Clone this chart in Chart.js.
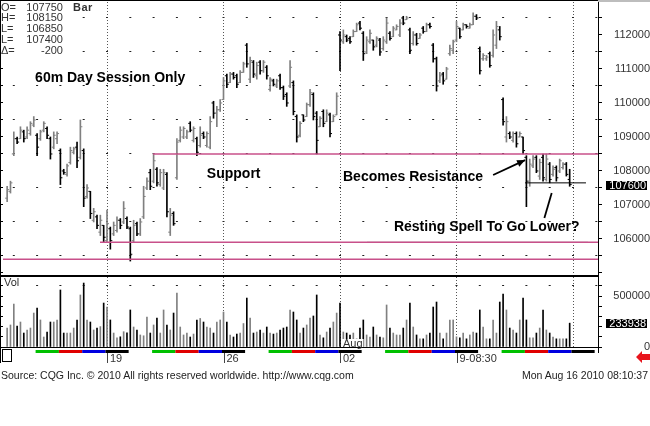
<!DOCTYPE html>
<html>
<head>
<meta charset="utf-8">
<title>60m Day Session Only</title>
<script src="https://cdn.jsdelivr.net/npm/chart.js@4/dist/chart.umd.min.js"></script>
<style>
html,body{margin:0;padding:0;background:#fff;}
body{position:relative;width:650px;height:426px;overflow:hidden;font-family:"Liberation Sans",Arial,sans-serif;}
canvas{position:absolute;left:0;}
#price{top:0;}
#vol{top:277px;}
.a{position:absolute;white-space:pre;}
.h{font-size:11px;line-height:11px;color:#333;background:#fff;}
.v{width:40px;text-align:right;left:23px;}
.f{font-size:10.5px;line-height:12px;color:#222;top:369px;}
</style>
</head>
<body>
<canvas id="price" width="650" height="277" style="width:650px;height:277px"></canvas>
<canvas id="vol" width="650" height="90" style="width:650px;height:90px"></canvas>

<div class="a" style="left:0;top:0;width:598px;height:1px;background:#000"></div>
<div class="a" style="left:598px;top:0;width:52px;height:2px;background:#bdbdbd"></div>
<div class="a" style="left:0;top:0;width:1px;height:363px;background:#000"></div>
<div class="a" style="left:0;top:275px;width:599px;height:2px;background:#000"></div>
<div class="a" style="left:598px;top:347px;width:1px;height:6px;background:#000"></div>
<div class="a" style="left:2px;top:349px;width:8px;height:11px;border:1px solid #000;background:#fff"></div>
<svg class="a" style="left:636px;top:351px" width="14" height="12" viewBox="0 0 14 12"><polygon points="0,6 6,0 6,3 14,3 14,9 6,9 6,12" fill="#e8141c"/></svg>

<div class="a h" style="left:1px;top:1.5px">O=</div><div class="a h v" style="top:1.5px">107750</div>
<div class="a h" style="left:1px;top:12px">H=</div><div class="a h v" style="top:12px">108150</div>
<div class="a h" style="left:1px;top:23px">L=</div><div class="a h v" style="top:23px">106850</div>
<div class="a h" style="left:1px;top:34px">L=</div><div class="a h v" style="top:34px">107400</div>
<div class="a h" style="left:1px;top:44.5px">Δ=</div><div class="a h v" style="top:44.5px">-200</div>
<div class="a h" style="left:73px;top:1.5px;font-weight:bold;letter-spacing:0.5px">Bar</div>

<div class="a f" style="left:1px">Source: CQG Inc. © 2010 All rights reserved worldwide. http://www.cqg.com</div>
<div class="a f" style="right:2px">Mon Aug 16 2010 08:10:37</div>

<script>
// ---------------- DATA ----------------
const FIRST_SLOT = 5;      // slot (hourly bar position) of the first bar, Mon Jul 12
const BARS_PER_DAY = 7;

const open = [
  107200,107400,
  108500,108950,108950,109150,109000,109100,109350,
  109050,108950,109200,109250,108950,108700,108950,
  108600,108000,107900,108250,108550,108700,108400,
  108600,107250,107400,106550,106650,106200,106400,
  105950,106300,106150,106250,106550,106500,106600,
  106300,105950,106450,106150,106650,107500,107950,
  107700,108050,107600,107500,107900,106200,106750,
  107800,108900,109000,109000,109400,108900,108950,
  108750,109100,108750,108700,110000,109700,109800,
  110100,110800,110600,110850,110800,110600,110900,
  111700,110700,111200,110800,111200,110950,111050,
  110400,110650,110500,110800,110450,110250,110500,
  110600,109600,109050,109650,109600,109950,110250,
  109700,109300,109750,109450,109650,109450,109650,
  112000,111800,111950,111900,111950,112100,112350,
  112050,111500,111800,111850,111700,111850,111600,
  111800,112050,111950,112150,112000,112500,112450,
  112150,111750,112000,111900,112200,112100,112300,
  111700,111300,110650,110850,110700,111450,111550,
  111850,112200,112150,112300,112200,112300,112550,
  111600,111300,111300,111450,111400,111700,112150,
  110100,109000,109100,108900,109100,109000,109000,
  108400,107700,108150,108400,107850,108400,107750,
  108200,107900,108100,108000,108100,108200,107750
];
const high = [
  107550,107700,
  109150,109000,109300,109200,109300,109450,109600,
  109100,109200,109450,109300,109000,109150,109150,
  108650,108050,108200,108700,108700,108850,109500,
  108650,107600,107400,106900,106700,106700,106400,
  106850,106350,106500,106650,106600,107100,106650,
  106350,106550,106500,106600,107550,107800,108050,
  108500,108100,108050,108050,107950,106900,106800,
  108950,109300,109300,109200,109450,109300,109000,
  109300,109150,109150,109600,110050,109900,110100,
  110750,110850,110900,110900,110850,110950,111200,
  111750,111350,111250,111200,111250,111250,111100,
  110750,110700,110700,110850,110500,110300,111250,
  110650,109650,109450,109650,110000,110400,110300,
  109750,109600,109800,109800,109700,109650,110300,
  112100,112150,112000,111950,112150,112350,112400,
  112100,111950,112150,111850,111950,111900,111950,
  112500,112100,112250,112300,112450,112550,112550,
  112200,112100,112050,112050,112250,112350,112350,
  111750,111350,110900,110900,111050,111700,111850,
  112400,112200,112350,112300,112350,112650,112600,
  111650,111450,111400,111500,112150,112400,112250,
  110150,109600,109150,109150,109150,109150,109000,
  108450,108350,108450,108450,108350,108500,108500,
  108250,108150,108150,108350,108250,108250,108050
];
const low = [
  107100,107350,
  108450,108800,108950,108850,108950,109050,109300,
  108450,108900,109150,108950,108350,108650,108800,
  107600,107900,107850,108200,108500,108100,108350,
  106950,107200,106600,106500,106300,106100,105900,
  105900,105700,106100,106200,106300,106450,106300,
  105350,105900,106100,106100,106600,107450,107450,
  107650,107550,107550,107450,106650,106100,106400,
  107750,108850,108950,108950,109150,108850,108450,
  108700,108950,108700,108650,109550,109300,109750,
  110100,110450,110600,110700,110450,110600,110900,
  111050,110600,110750,110700,110850,110900,110700,
  110350,110500,110450,110400,110100,109900,110450,
  109650,108850,109000,109450,109600,109900,109500,
  108500,109300,109300,109450,109000,109450,109650,
  110950,111750,111800,111750,111950,112100,112150,
  111250,111450,111750,111550,111650,111400,111550,
  111750,111850,111950,112150,111950,112300,112450,
  111450,111700,111700,111900,112050,112100,112200,
  111200,110350,110600,110550,110700,111400,111450,
  111800,111900,112150,112200,112200,112300,112450,
  110850,111250,111250,111050,111350,111600,111850,
  109350,108850,108950,108850,108700,109000,108500,
  106950,107550,108100,107950,107750,107700,107700,
  107650,107850,107700,107950,108050,107850,107550
];
const close = [
  107450,107650,
  108950,108850,109200,108950,109200,109400,109500,
  108700,109150,109400,109050,108500,109050,109100,
  107800,107950,108150,108600,108650,108300,109300,
  107200,107500,106750,106800,106400,106550,106050,
  106450,105950,106400,106550,106400,106900,106350,
  105550,106400,106150,106500,107250,107700,107550,
  108300,107650,107950,107950,106800,106700,106450,
  108850,109200,109250,109150,109200,109250,108550,
  109050,109000,109100,109450,109700,109800,110000,
  110650,110550,110850,110750,110550,110900,111150,
  111150,111250,110850,111100,110950,111200,110800,
  110700,110550,110650,110450,110200,110000,111050,
  109750,109000,109400,109500,109950,110300,109600,
  108900,109550,109400,109700,109100,109600,110200,
  111850,112000,111850,111800,112100,112300,112200,
  111450,111850,112050,111650,111900,111500,111850,
  112350,111900,112200,112250,112350,112350,112500,
  111550,112000,111750,112000,112100,112300,112250,
  111300,110500,110800,110650,111000,111600,111800,
  112250,111950,112300,112250,112300,112550,112500,
  110950,111400,111350,111100,112000,112250,111950,
  109450,109450,109000,109100,108800,109100,108600,
  107700,108200,108350,108000,108250,107800,108350,
  107750,108050,107800,108300,108200,107900,107600
];
const volume = [
  186000,216000,
  421000,206000,245000,137000,167000,186000,333000,
  382000,265000,98000,147000,245000,245000,265000,
  559000,137000,137000,137000,186000,265000,510000,
  627000,265000,245000,167000,186000,200000,431000,
  392000,265000,137000,90000,100000,150000,140000,
  363000,196000,167000,118000,110000,294000,137000,
  216000,284000,137000,363000,216000,167000,333000,
  529000,196000,118000,137000,98000,127000,265000,
  280000,245000,196000,186000,137000,245000,265000,
  343000,245000,118000,98000,127000,137000,230000,
  480000,284000,137000,147000,167000,137000,196000,
  137000,127000,137000,167000,186000,196000,363000,
  343000,265000,137000,186000,216000,284000,304000,
  510000,118000,90000,147000,186000,245000,333000,
  431000,147000,137000,118000,137000,80000,186000,
  265000,118000,98000,196000,118000,98000,90000,
  412000,186000,137000,118000,118000,186000,265000,
  431000,196000,118000,80000,80000,118000,137000,
  392000,441000,137000,80000,137000,265000,265000,
  100000,90000,137000,80000,118000,147000,137000,
  363000,196000,80000,80000,265000,137000,441000,
  520000,363000,186000,167000,137000,265000,480000,
  265000,90000,90000,137000,186000,363000,167000,
  137000,98000,80000,80000,80000,80000,233938
];

const weekSlots  = [35, 70, 105, 140, 175];
const weekLabels = ['19', '26', '02', '9-08:30', ''];
const monthMark  = {slot: 105, text: 'Aug'};
const priceTickLabels = [106000, 107000, 108000, 109000, 110000, 111000, 112000];
const volTickLabels   = [0, 500000];

const supportLevel = 108500;   // support that becomes resistance
const lowerSupport = 105900;
const swingLow     = 105400;
const restingLevel = 107650;

// ---------------- CHART SETUP ----------------
const X_MIN = 3.755, X_MAX = 182.51;
const P_MIN = 104940, P_MAX = 112970;
const V_MAX = 686275;
const UP = '#808080', DOWN = '#000000', PINK = '#c8508a';
const FONT = '"Liberation Sans", Arial, sans-serif';

Chart.defaults.font.family = FONT;
Chart.defaults.font.size = 11;
Chart.defaults.color = '#333';
Chart.defaults.animation = false;

const slots = open.map((_, i) => FIRST_SLOT + i);
const barColors = close.map((c, i) => c >= open[i] ? UP : DOWN);

const priceGrid = []; for (let v = 105000; v <= 112500; v += 500) priceGrid.push(v);
const volGrid = []; for (let v = 0; v <= 600000; v += 100000) volGrid.push(v);

function xAxis(withLabels) {
  return {
    type: 'linear', min: X_MIN, max: X_MAX, offset: false,
    afterBuildTicks: s => { s.ticks = weekSlots.map(v => ({value: v})); },
    ticks: {display: withLabels, autoSkip: false, maxRotation: 0, minRotation: 0, align: 'start',
            labelOffset: 3, padding: 5, color: '#333', font: {size: 11},
            callback: v => { const i = weekSlots.indexOf(v); return i >= 0 ? weekLabels[i] : ''; }},
    grid: {drawTicks: false, color: '#555', lineWidth: 1, offset: false},
    border: {display: withLabels, color: '#000', width: 1, dash: [1, 2]},
    afterFit: s => { s.height = withLabels ? 16 : 0; s.paddingLeft = 0; s.paddingRight = 0; }
  };
}
function rightAxis(min, max, gridVals, labels, dotTest) {
  return {
    position: 'right', min, max,
    afterBuildTicks: s => { s.ticks = gridVals.map(v => ({value: v})); },
    ticks: {crossAlign: 'far', padding: 7, color: '#333', font: {size: 11}, autoSkip: false,
            callback: v => labels.includes(v) ? String(v) : ''},
    grid: {color: c => (c.tick && dotTest(c.tick.value)) ? '#222' : 'rgba(0,0,0,0)',
           drawTicks: true, tickLength: 4, tickColor: '#000', lineWidth: 1},
    border: {display: true, color: '#000', width: 1, dash: [2, 21.3], dashOffset: 13.5},
    afterFit: s => { s.width = 52; s.paddingTop = 0; s.paddingBottom = 0; }
  };
}
function leftAxis(min, max, gridVals) {
  return {
    position: 'left', min, max,
    afterBuildTicks: s => { s.ticks = gridVals.map(v => ({value: v})); },
    ticks: {display: false, autoSkip: false},
    grid: {drawOnChartArea: false, drawTicks: true, tickLength: 3, tickColor: '#000'},
    border: {display: false},
    afterFit: s => { s.width = 3; s.paddingTop = 0; s.paddingBottom = 0; }
  };
}

// annotations (anchored in data space)
const notes = [
  {text: '60m Day Session Only', slot: 13.4, price: 110740},
  {text: 'Support', slot: 65.0, price: 107910},
  {text: 'Becomes Resistance', slot: 105.9, price: 107820},
  {text: 'Resting Spell To Go Lower?', slot: 121.2, price: 106350}
];
const pointers = [
  {from: [151.0, 107880], to: [160.6, 108320], head: true},
  {from: [168.6, 107350], to: [166.4, 106620], head: false}
];
const levelDefs = [
  {y: supportLevel, x0: 48.8, x1: X_MAX, c: PINK, w: 1.5},
  {y: lowerSupport, x0: 32.9, x1: X_MAX, c: PINK, w: 1.5},
  {y: lowerSupport, x0: 113.1, x1: 179.5, c: '#555', w: 1},
  {y: swingLow, x0: X_MIN, x1: X_MAX, c: PINK, w: 1.5},
  {y: restingLevel, x0: 160.6, x1: 178.9, c: '#000', w: 1}
];

const priceDecor = {
  id: 'priceDecor',
  afterDatasetsDraw(chart) {
    const {ctx, scales: {x, y}} = chart;
    ctx.save();
    ctx.fillStyle = '#000';
    ctx.font = 'bold 14px ' + FONT;
    ctx.textAlign = 'left';
    ctx.textBaseline = 'middle';
    notes.forEach(n => ctx.fillText(n.text, x.getPixelForValue(n.slot), y.getPixelForValue(n.price)));
    ctx.strokeStyle = '#000';
    ctx.lineWidth = 1.8;
    pointers.forEach(p => {
      const x0 = x.getPixelForValue(p.from[0]), y0 = y.getPixelForValue(p.from[1]);
      const x1 = x.getPixelForValue(p.to[0]), y1 = y.getPixelForValue(p.to[1]);
      ctx.beginPath(); ctx.moveTo(x0, y0); ctx.lineTo(x1, y1); ctx.stroke();
      if (p.head) {
        const a = Math.atan2(y1 - y0, x1 - x0), L = 8, W = 3.5;
        ctx.beginPath();
        ctx.moveTo(x1, y1);
        ctx.lineTo(x1 - L * Math.cos(a) + W * Math.sin(a), y1 - L * Math.sin(a) - W * Math.cos(a));
        ctx.lineTo(x1 - L * Math.cos(a) - W * Math.sin(a), y1 - L * Math.sin(a) + W * Math.cos(a));
        ctx.closePath(); ctx.fill();
      }
    });
    // last price marker
    const last = close[close.length - 1];
    const yp = y.getPixelForValue(last);
    ctx.fillStyle = '#000';
    ctx.fillRect(chart.chartArea.right + 8, Math.round(yp) - 4, 41, 9);
    ctx.fillStyle = '#fff';
    ctx.font = '11px ' + FONT;
    ctx.textAlign = 'right';
    ctx.fillText(String(last), chart.width - 4, Math.round(yp) + 0.5);
    ctx.restore();
  }
};

const volDecor = {
  id: 'volDecor',
  afterDraw(chart) {
    const {ctx, chartArea: a, scales: {x, y}} = chart;
    ctx.save();
    // weekday colour strip (Mon black, Tue white, Wed green, Thu red, Fri blue)
    const dayColors = ['#000000', '#ffffff', '#00c000', '#e00000', '#0000e0'];
    for (let k = 0; k <= 26; k++) {
      let x0 = x.getPixelForValue(k * BARS_PER_DAY) - 1.5;
      let x1 = x.getPixelForValue((k + 1) * BARS_PER_DAY) - 1.5;
      x0 = Math.max(x0, a.left + 10); x1 = Math.min(x1, a.right);
      if (x1 <= x0) continue;
      ctx.fillStyle = dayColors[k % 5];
      ctx.fillRect(x0, a.bottom + 3, x1 - x0, 3);
    }
    // week tick marks
    ctx.strokeStyle = '#444'; ctx.lineWidth = 1;
    weekSlots.forEach((s, i) => {
      if (!weekLabels[i]) return;
      const px = Math.round(x.getPixelForValue(s)) + 0.5;
      ctx.beginPath(); ctx.moveTo(px, a.bottom + 6); ctx.lineTo(px, a.bottom + 16); ctx.stroke();
    });
    // month label
    ctx.font = '11px ' + FONT;
    ctx.textBaseline = 'middle'; ctx.textAlign = 'left';
    const mx = x.getPixelForValue(monthMark.slot) + 3;
    const mw = ctx.measureText(monthMark.text).width;
    ctx.fillStyle = '#fff'; ctx.fillRect(mx - 1, a.bottom - 8, mw + 2, 8);
    ctx.fillStyle = '#333'; ctx.fillText(monthMark.text, mx, a.bottom - 3);
    // panel title
    ctx.fillText('Vol', a.left + 1, a.top + 6);
    // last volume marker
    const last = volume[volume.length - 1];
    const yp = Math.round(y.getPixelForValue(last));
    ctx.fillStyle = '#000';
    ctx.fillRect(a.right + 8, yp - 4, 41, 9);
    ctx.fillStyle = '#fff'; ctx.textAlign = 'right';
    ctx.fillText(String(last), chart.width - 4, yp + 0.5);
    ctx.restore();
  }
};

// ---------------- PRICE CHART ----------------
new Chart(document.getElementById('price'), {
  type: 'bar',
  data: {
    datasets: [
      ...levelDefs.map(d => ({
        type: 'line', data: [{x: d.x0, y: d.y}, {x: d.x1, y: d.y}],
        borderColor: d.c, borderWidth: d.w, pointRadius: 0, fill: false, order: 0
      })),
      {type: 'scatter', data: slots.map((s, i) => ({x: s, y: open[i]})),
       pointStyle: 'dash', pointRotation: 180, pointRadius: 2, pointBorderWidth: 1,
       pointBorderColor: barColors, pointBackgroundColor: barColors, order: 1},
      {type: 'scatter', data: slots.map((s, i) => ({x: s, y: close[i]})),
       pointStyle: 'dash', pointRotation: 0, pointRadius: 2, pointBorderWidth: 1,
       pointBorderColor: barColors, pointBackgroundColor: barColors, order: 1},
      {type: 'bar', data: slots.map((s, i) => ({x: s, y: [low[i], high[i]]})),
       backgroundColor: barColors, borderWidth: 0, barThickness: 1, order: 2}
    ]
  },
  options: {
    responsive: false, events: [],
    layout: {padding: {top: 2, bottom: 2, left: 0, right: 0}, autoPadding: false},
    plugins: {legend: {display: false}, tooltip: {enabled: false}},
    scales: {
      x: xAxis(false),
      y: rightAxis(P_MIN, P_MAX, priceGrid, priceTickLabels, v => v % 1000 === 500),
      yl: leftAxis(P_MIN, P_MAX, priceGrid)
    }
  },
  plugins: [priceDecor]
});

// ---------------- VOLUME CHART ----------------
new Chart(document.getElementById('vol'), {
  type: 'bar',
  data: {
    datasets: [
      {type: 'bar', data: slots.map((s, i) => ({x: s, y: volume[i]})),
       backgroundColor: barColors, borderWidth: 0, barThickness: 1}
    ]
  },
  options: {
    responsive: false, events: [],
    layout: {padding: {top: 0, bottom: 4, left: 0, right: 0}, autoPadding: false},
    plugins: {legend: {display: false}, tooltip: {enabled: false}},
    scales: {
      x: xAxis(true),
      y: rightAxis(0, V_MAX, volGrid, volTickLabels, v => v === 600000),
      yl: leftAxis(0, V_MAX, volGrid)
    }
  },
  plugins: [volDecor]
});
</script>
</body>
</html>
